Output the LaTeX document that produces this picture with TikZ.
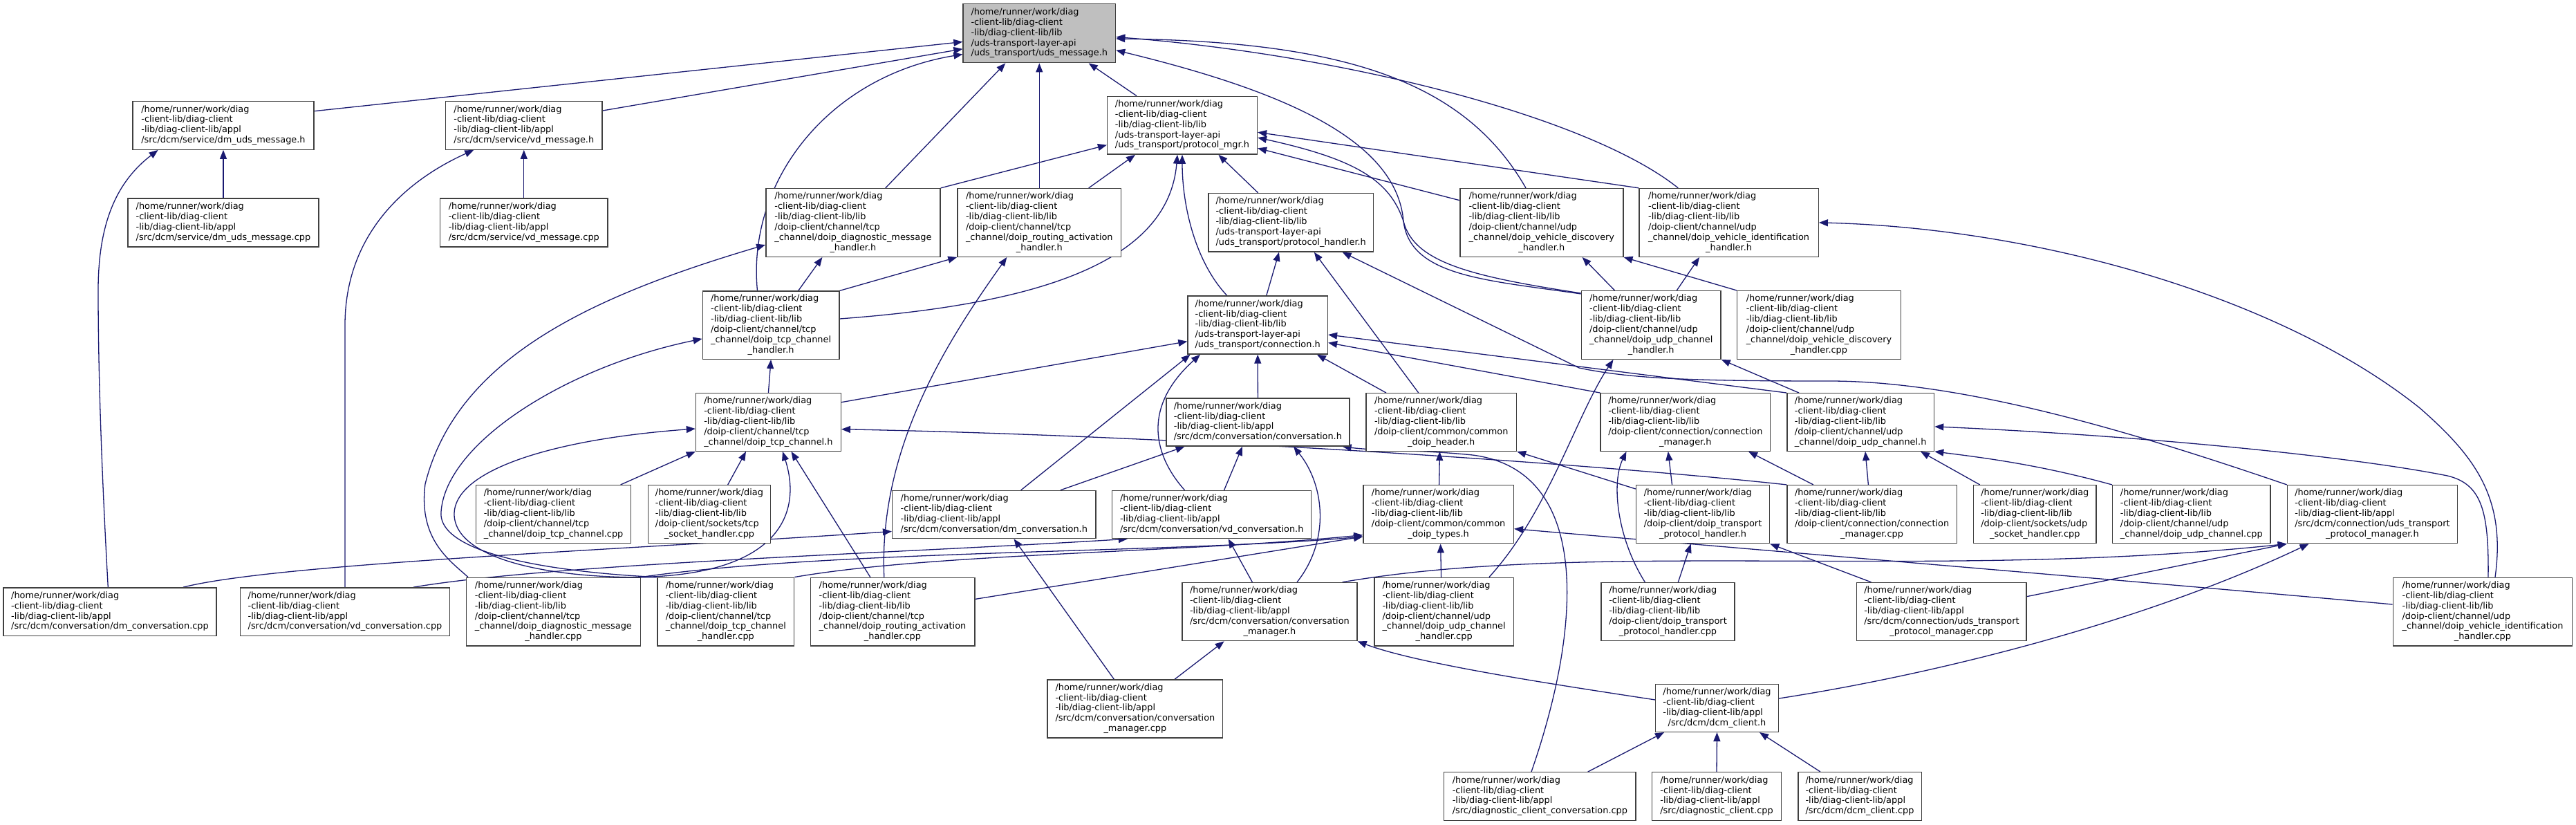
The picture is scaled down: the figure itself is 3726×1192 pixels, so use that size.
\documentclass[tikz,border=0pt]{standalone}
\usepackage{fontspec}
\setmainfont{DejaVu Sans}
\usetikzlibrary{arrows.meta,calc}
\pgfdeclarelayer{bg}
\pgfsetlayers{bg,main}
\definecolor{edgecol}{HTML}{191970}
\definecolor{boxcol}{HTML}{404040}
\definecolor{rootfill}{HTML}{BFBFBF}
\newcommand{\dgfl}[2]{\begin{tabular}{@{}l@{}}#1\\\multicolumn{1}{@{}c@{}}{#2}\end{tabular}}
\newcommand{\dghd}{/home/runner/work/diag\\-client-lib/diag-client\\-lib/diag-client-lib/}
\newcommand{\dglib}[2]{\dgfl{\dghd lib\\#1}{#2}}
\newcommand{\dgapp}[1]{\dgfl{\dghd appl}{#1}}
\newcommand{\dgappx}[2]{\dgfl{\dghd appl\\#1}{#2}}
\begin{document}
\begin{tikzpicture}[x=1pt,y=-1pt,
  box/.style={draw=boxcol,line width=1.4pt,fill=white,inner sep=0pt,font=\fontsize{12.9}{14.9}\selectfont},
  edge/.style={draw=edgecol,line width=1.3pt,-{Triangle[length=13pt,width=10pt]}}]
\useasboundingbox (0,0) rectangle (3726,1192);
% nodes
\node[box,fill=rootfill,minimum width=220.5pt,minimum height=85pt] (root) at (1503.3,48.2) {\dglib{/uds-transport-layer-api}{/uds\_transport/uds\_message.h}};
\node[box,minimum width=261.7pt,minimum height=69.6pt] (A) at (323,181.4) {\dgapp{/src/dcm/service/dm\_uds\_message.h}};
\node[box,minimum width=226.5pt,minimum height=69.6pt] (B) at (757.8,181.4) {\dgapp{/src/dcm/service/vd\_message.h}};
\node[box,minimum width=276.3pt,minimum height=70pt] (C) at (323,322) {\dgapp{/src/dcm/service/dm\_uds\_message.cpp}};
\node[box,minimum width=242.1pt,minimum height=70pt] (D) at (757.8,322) {\dgapp{/src/dcm/service/vd\_message.cpp}};
\node[box,minimum width=216.8pt,minimum height=83.8pt] (P) at (1710,181.2) {\dglib{/uds-transport-layer-api}{/uds\_transport/protocol\_mgr.h}};
\node[box,minimum width=252.2pt,minimum height=98.7pt] (E) at (1233.9,321.9) {\dglib{/doip-client/channel/tcp\\\_channel/doip\_diagnostic\_message}{\_handler.h}};
\node[box,minimum width=236.7pt,minimum height=98.7pt] (F) at (1503.3,321.9) {\dglib{/doip-client/channel/tcp\\\_channel/doip\_routing\_activation}{\_handler.h}};
\node[box,minimum width=238.7pt,minimum height=84.6pt] (G) at (1867.2,321.7) {\dglib{/uds-transport-layer-api}{/uds\_transport/protocol\_handler.h}};
\node[box,minimum width=236pt,minimum height=98.7pt] (H) at (2229.8,321.9) {\dglib{/doip-client/channel/udp\\\_channel/doip\_vehicle\_discovery}{\_handler.h}};
\node[box,minimum width=259.2pt,minimum height=98.7pt] (I) at (2500.6,321.9) {\dglib{/doip-client/channel/udp\\\_channel/doip\_vehicle\_identification}{\_handler.h}};
\node[box,minimum width=197.6pt,minimum height=98.3pt] (J) at (1115.1,470.2) {\dglib{/doip-client/channel/tcp\\\_channel/doip\_tcp\_channel}{\_handler.h}};
\node[box,minimum width=202.4pt,minimum height=84pt] (K) at (1819.2,470) {\dglib{/uds-transport-layer-api}{/uds\_transport/connection.h}};
\node[box,minimum width=201.7pt,minimum height=98.7pt] (L) at (2388.2,470) {\dglib{/doip-client/channel/udp\\\_channel/doip\_udp\_channel}{\_handler.h}};
\node[box,minimum width=236.7pt,minimum height=98.7pt] (M) at (2631,470) {\dglib{/doip-client/channel/udp\\\_channel/doip\_vehicle\_discovery}{\_handler.cpp}};
\node[box,minimum width=209.8pt,minimum height=83.5pt] (N) at (1111.4,610.5) {\dglib{/doip-client/channel/tcp}{\_channel/doip\_tcp\_channel.h}};
\node[box,minimum width=264.8pt,minimum height=69pt] (O) at (1819.4,610.5) {\dgapp{/src/dcm/conversation/conversation.h}};
\node[box,minimum width=217.6pt,minimum height=83.5pt] (P2) at (2084.7,610.5) {\dglib{/doip-client/common/common}{\_doip\_header.h}};
\node[box,minimum width=245.3pt,minimum height=83.5pt] (Q) at (2437.8,610.5) {\dglib{/doip-client/connection/connection}{\_manager.h}};
\node[box,minimum width=212.7pt,minimum height=83.5pt] (R) at (2691.2,610.5) {\dglib{/doip-client/channel/udp}{\_channel/doip\_udp\_channel.h}};
\node[box,minimum width=224.1pt,minimum height=84.1pt] (S) at (800.6,743.7) {\dglib{/doip-client/channel/tcp}{\_channel/doip\_tcp\_channel.cpp}};
\node[box,minimum width=176.7pt,minimum height=84.1pt] (T) at (1026,743.7) {\dglib{/doip-client/sockets/tcp}{\_socket\_handler.cpp}};
\node[box,minimum width=294.3pt,minimum height=69.1pt] (U) at (1437.8,744) {\dgapp{/src/dcm/conversation/dm\_conversation.h}};
\node[box,minimum width=288.1pt,minimum height=69.1pt] (V) at (1752.7,744) {\dgapp{/src/dcm/conversation/vd\_conversation.h}};
\node[box,minimum width=217.6pt,minimum height=84.1pt] (W) at (2080.6,743.7) {\dglib{/doip-client/common/common}{\_doip\_types.h}};
\node[box,minimum width=193.1pt,minimum height=84.1pt] (X) at (2463,743.7) {\dglib{/doip-client/doip\_transport}{\_protocol\_handler.h}};
\node[box,minimum width=245.3pt,minimum height=84.1pt] (Y) at (2707.6,743.7) {\dglib{/doip-client/connection/connection}{\_manager.cpp}};
\node[box,minimum width=177.1pt,minimum height=84.1pt] (Z) at (2943.3,743.7) {\dglib{/doip-client/sockets/udp}{\_socket\_handler.cpp}};
\node[box,minimum width=228.5pt,minimum height=84.1pt] (AA) at (3169.8,743.7) {\dglib{/doip-client/channel/udp}{\_channel/doip\_udp\_channel.cpp}};
\node[box,minimum width=245.9pt,minimum height=84.1pt] (AB) at (3431.4,743.7) {\dgappx{/src/dcm/connection/uds\_transport}{\_protocol\_manager.h}};
\node[box,minimum width=308.2pt,minimum height=69.5pt] (AC) at (159,884.6) {\dgapp{/src/dcm/conversation/dm\_conversation.cpp}};
\node[box,minimum width=303.3pt,minimum height=69.5pt] (AD) at (499,884.6) {\dgapp{/src/dcm/conversation/vd\_conversation.cpp}};
\node[box,minimum width=252.2pt,minimum height=98.7pt] (AE) at (800.4,884.6) {\dglib{/doip-client/channel/tcp\\\_channel/doip\_diagnostic\_message}{\_handler.cpp}};
\node[box,minimum width=197.6pt,minimum height=98.7pt] (AF) at (1049.8,884.6) {\dglib{/doip-client/channel/tcp\\\_channel/doip\_tcp\_channel}{\_handler.cpp}};
\node[box,minimum width=237.6pt,minimum height=98.7pt] (AG) at (1291,884.6) {\dglib{/doip-client/channel/tcp\\\_channel/doip\_routing\_activation}{\_handler.cpp}};
\node[box,minimum width=253.1pt,minimum height=84.1pt] (AH) at (1836.4,884.6) {\dgappx{/src/dcm/conversation/conversation}{\_manager.h}};
\node[box,minimum width=201.6pt,minimum height=98.7pt] (AI) at (2088.6,884.6) {\dglib{/doip-client/channel/udp\\\_channel/doip\_udp\_channel}{\_handler.cpp}};
\node[box,minimum width=193.1pt,minimum height=84.1pt] (AJ) at (2412.5,884.6) {\dglib{/doip-client/doip\_transport}{\_protocol\_handler.cpp}};
\node[box,minimum width=245.3pt,minimum height=84.1pt] (AK) at (2808.4,884.6) {\dgappx{/src/dcm/connection/uds\_transport}{\_protocol\_manager.cpp}};
\node[box,minimum width=259.5pt,minimum height=98.7pt] (AL) at (3591,884.6) {\dglib{/doip-client/channel/udp\\\_channel/doip\_vehicle\_identification}{\_handler.cpp}};
\node[box,minimum width=253.5pt,minimum height=84pt] (AM) at (1641.9,1025) {\dgappx{/src/dcm/conversation/conversation}{\_manager.cpp}};
\node[box,minimum width=177.5pt,minimum height=68.7pt] (AN) at (2483.5,1024) {\dgapp{/src/dcm/dcm\_client.h}};
\node[box,minimum width=277.5pt,minimum height=69.5pt] (AO) at (2227.4,1151.5) {\dgapp{/src/diagnostic\_client\_conversation.cpp}};
\node[box,minimum width=186.5pt,minimum height=69.5pt] (AP) at (2483,1151.5) {\dgapp{/src/diagnostic\_client.cpp}};
\node[box,minimum width=178.4pt,minimum height=69.5pt] (AQ) at (2690,1151.5) {\dgapp{/src/dcm/dcm\_client.cpp}};
\begin{pgfonlayer}{bg}
\fill[white] (0,0) rectangle (3726,1192);
% into root
\draw[edge] ($(A.east)+(0,-20.7)$) -- ($(root.west)+(0,12.3)$);
\draw[edge] ($(B.east)+(0,-21.4)$) -- ($(root.west)+(0,22.6)$);
\draw[edge] ($(J.north)+(-19.6,0)$) .. controls (1080,260) and (1200,110) .. ($(root.west)+(0,30.3)$);
\draw[edge] ($(E.north)+(46.9,0)$) -- ($(root.south)+(-49,0)$);
\draw[edge] (F.north) -- (root.south);
\draw[edge] ($(P.north)+(-66,0)$) -- ($(root.south)+(71.4,0)$);
\draw[edge] ($(H.north)+(-22.8,0)$) .. controls (2120,120) and (1950,60) .. ($(root.east)+(0,7.8)$);
\draw[edge] ($(I.north)+(-73.3,0)$) .. controls (2300,170) and (1950,80) .. ($(root.east)+(0,5.3)$);
\draw[edge] ($(L.west)+(0,-45)$) .. controls (2150,405) and (2040,400) .. (2030,320) .. controls (2020,200) and (1850,130) .. ($(root.east)+(0,24.5)$);
% into protocol_mgr
\draw[edge] (E.north east) -- ($(P.west)+(0,28.5)$);
\draw[edge] ($(F.north)+(71.4,0)$) -- ($(P.south)+(-68,0)$);
\draw[edge] ($(J.east)+(0,-9.2)$) .. controls (1500,440) and (1690,380) .. ($(P.south)+(-7,0)$);
\draw[edge] ($(K.north)+(-44.5,0)$) .. controls (1730,380) and (1710,300) .. (P.south);
\draw[edge] ($(G.north)+(-47.6,0)$) -- ($(P.south)+(52.4,0)$);
\draw[edge] ($(H.west)+(0,-32.2)$) -- ($(P.east)+(0,33.1)$);
\draw[edge] (I.north west) -- ($(P.east)+(0,10.1)$);
\draw[edge] ($(L.west)+(0,-46)$) .. controls (2130,400) and (2045,380) .. (2030,320) .. controls (2010,260) and (1960,230) .. ($(P.east)+(0,17.8)$);
% E, F
\draw[edge] ($(J.north)+(39.6,0)$) -- ($(E.south)+(-44.5,0)$);
\draw[edge] ($(AE.north)+(-123.4,0)$) .. controls (650,810) and (605,780) .. (615,700) .. controls (660,520) and (850,430) .. ($(E.west)+(0,32.1)$);
\draw[edge] (J.north east) -- (F.south west);
\draw[edge] ($(AG.north)+(-12.2,0)$) .. controls (1270,640) and (1380,480) .. ($(F.south)+(-47,0)$);
% G
\draw[edge] ($(K.north)+(12.6,0)$) -- ($(G.south)+(-17.2,0)$);
\draw[edge] ($(P2.north)+(-32.9,0)$) -- ($(G.south)+(33.6,0)$);
\draw[edge] (AB.north west) .. controls (3100,630) and (2850,552) .. (2650,551) .. controls (2450,551) and (2360,548) .. (2284,532) -- ($(G.south)+(74.4,0)$);
% H, I
\draw[edge] ($(L.north)+(-52.7,0)$) -- ($(H.south)+(58.8,0)$);
\draw[edge] (M.north west) -- (H.south east);
\draw[edge] ($(L.north)+(37.1,0)$) -- ($(I.south)+(-42.6,0)$);
\draw[edge] ($(AL.north)+(18,0)$) .. controls (3625,720) and (3580,660) .. (3500,590) .. controls (3300,430) and (2950,330) .. (I.east);
% J
\draw[edge] (N.north) -- (J.south);
\draw[edge] (AF.north west) .. controls (850,830) and (632,810) .. (638,740) .. controls (645,640) and (820,530) .. ($(J.west)+(0,19.7)$);
% K
\draw[edge] ($(N.east)+(0,-28.8)$) -- ($(K.west)+(0,23.7)$);
\draw[edge] ($(U.north)+(38.9,0)$) -- ($(K.south)+(-97.6,0)$);
\draw[edge] ($(V.north)+(-39.2,0)$) .. controls (1670,660) and (1650,590) .. ($(K.south)+(-83.2,0)$);
\draw[edge] (O.north) -- (K.south);
\draw[edge] (R.north west) -- ($(K.east)+(0,14)$);
\draw[edge] (Q.north west) -- ($(K.east)+(0,25.6)$);
\draw[edge] ($(P2.north)+(-79.7,0)$) -- ($(K.south)+(85.7,0)$);
% N
\draw[edge] ($(S.north)+(97,0)$) -- (N.south west);
\draw[edge] ($(T.north)+(26.7,0)$) -- ($(N.south)+(-32.4,0)$);
\draw[edge] (AE.north east) .. controls (1130,830) and (1160,740) .. ($(N.south)+(20.6,0)$);
\draw[edge] ($(AG.north)+(-32.2,0)$) -- ($(N.south)+(33.1,0)$);
\draw[edge] (AF.north west) .. controls (800,838) and (660,810) .. (657,745) .. controls (655,680) and (800,635) .. ($(N.west)+(0,9.5)$);
\draw[edge] (Y.north west) .. controls (2300,670) and (1700,630) .. ($(N.east)+(0,10.2)$);
% O
\draw[edge] ($(U.north)+(96.1,0)$) -- ($(O.south)+(-105.9,0)$);
\draw[edge] ($(V.north)+(17.9,0)$) -- ($(O.south)+(-22.4,0)$);
\draw[edge] ($(AH.north)+(39.6,0)$) .. controls (1925,780) and (1915,700) .. ($(O.south)+(51.6,0)$);
\draw[edge] ($(AO.north)+(-12.4,0)$) .. controls (2290,900) and (2300,680) .. (2130,658) .. controls (2050,650) and (1990,652) .. ($(O.south)+(122.2,0)$);
% P2
\draw[edge] ($(W.north)+(1,0)$) -- ($(P2.south)+(-2.3,0)$);
\draw[edge] ($(X.west)+(0,-36.7)$) -- (P2.south east);
% Q
\draw[edge] ($(X.north)+(-44.5,0)$) -- ($(Q.south)+(-25,0)$);
\draw[edge] ($(AJ.north)+(-33.1,0)$) .. controls (2340,780) and (2330,700) .. ($(Q.south)+(-85.4,0)$);
\draw[edge] ($(Y.north)+(-84.7,0)$) -- ($(Q.south)+(91.2,0)$);
% R
\draw[edge] ($(Y.north)+(-5.2,0)$) -- ($(R.south)+(6.8,0)$);
\draw[edge] ($(Z.north)+(-79.6,0)$) -- ($(R.south)+(86.8,0)$);
\draw[edge] (AA.north west) .. controls (2950,672) and (2870,662) .. (R.south east);
\draw[edge] ($(AL.north)+(8,0)$) .. controls (3600,740) and (3590,700) .. (3540,688) .. controls (3400,660) and (3100,630) .. ($(R.east)+(0,6.4)$);
% W
\draw[edge] ($(AI.north)+(-4,0)$) -- ($(W.south)+(3,0)$);
\draw[edge] (AE.north east) .. controls (1200,795) and (1700,800) .. ($(W.west)+(0,32.3)$);
\draw[edge] (AF.north east) .. controls (1350,800) and (1700,800) .. ($(W.west)+(0,30)$);
\draw[edge] ($(AG.east)+(0,-18.2)$) -- ($(W.west)+(0,32.3)$);
\draw[edge] ($(AL.west)+(0,-10.6)$) .. controls (3200,850) and (2600,800) .. ($(W.east)+(0,21)$);
% X
\draw[edge] ($(AJ.north)+(14.8,0)$) -- ($(X.south)+(-17.3,0)$);
\draw[edge] ($(AK.north)+(-101.9,0)$) -- (X.south east);
% AB
\draw[edge] ($(AK.east)+(0,-22)$) -- (AB.south west);
\draw[edge] ($(AN.east)+(0,-14)$) .. controls (2800,975) and (3100,900) .. ($(AB.south)+(-91.9,0)$);
\draw[edge] ($(AH.north)+(105.2,0)$) .. controls (2300,780) and (2800,840) .. (AB.south west);
% AH
\draw[edge] ($(AM.north)+(57.1,0)$) -- ($(AH.south)+(-65.8,0)$);
\draw[edge] ($(AN.west)+(0,-12)$) .. controls (2250,990) and (2050,960) .. (AH.south east);
\draw[edge] ($(AH.north)+(-25,0)$) -- ($(V.south)+(24,0)$);
% U, V
\draw[edge] ($(AM.north)+(-30.5,0)$) -- ($(U.south)+(28.7,0)$);
\draw[edge] ($(AC.north)+(106,0)$) .. controls (400,815) and (900,795) .. ($(U.west)+(0,24.5)$);
\draw[edge] ($(AD.north)+(99,0)$) .. controls (800,815) and (1300,800) .. ($(V.south west)+(23,0)$);
% A, B
\draw[edge] (C.north) -- (A.south);
\draw[edge] (D.north) -- (B.south);
\draw[edge] ($(AC.north)+(-2.7,0)$) .. controls (148,700) and (142,550) .. (142,420) .. controls (142,320) and (170,262) .. ($(A.south)+(-94.4,0)$);
\draw[edge] (AD.north) -- (499,470) .. controls (499,340) and (585,262) .. ($(B.south)+(-72.5,0)$);
% AN
\draw[edge] ($(AO.north)+(69.3,0)$) -- ($(AN.south)+(-76.5,0)$);
\draw[edge] (AP.north) -- (AN.south);
\draw[edge] ($(AQ.north)+(-57,0)$) -- ($(AN.south)+(61.5,0)$);
% L
\draw[edge] ($(AI.north)+(65.3,0)$) .. controls (2240,740) and (2280,600) .. ($(L.south)+(-54.7,0)$);
\draw[edge] ($(R.north)+(-89.2,0)$) -- (L.south east);
\end{pgfonlayer}
\end{tikzpicture}
\end{document}
